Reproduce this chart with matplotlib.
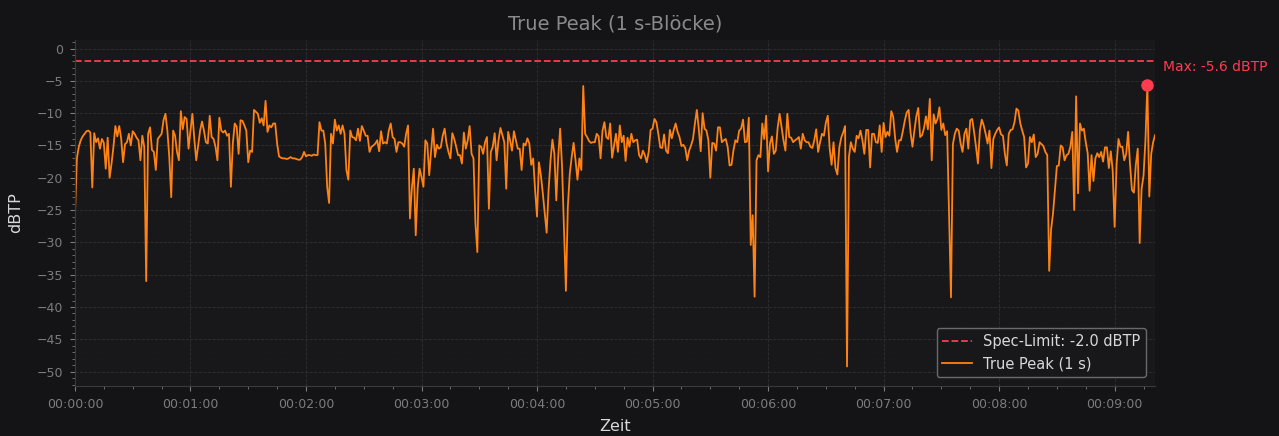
import matplotlib
matplotlib.use("Agg")
import matplotlib.pyplot as plt
from matplotlib.ticker import FuncFormatter, MultipleLocator, AutoMinorLocator

# True-Peak je 1-s-Block (dBTP)
peak_db = [
    -25.8, -17.0, -15.2, -14.2, -13.6, -13.2, -12.8, -12.7, -13.0, -21.5, -13.1, -14.5, -13.9, -15.5, -14.0, -14.6,
    -18.6, -13.8, -20.0, -17.8, -15.2, -12.0, -13.6, -12.0, -13.9, -17.6, -14.8, -14.5, -13.2, -15.0, -12.8, -13.2,
    -13.8, -14.2, -17.3, -13.5, -15.2, -36.0, -13.2, -12.2, -15.7, -16.0, -18.8, -14.0, -13.6, -13.2, -11.1,
    -10.1, -12.7, -16.8, -23.0, -12.7, -13.5, -16.0, -17.3, -9.7, -12.5, -10.6, -10.9, -15.5, -12.7, -10.1, -14.0,
    -17.3, -15.0, -12.7, -11.3, -12.7, -14.5, -14.7, -10.4, -13.7, -14.0, -15.2, -17.3, -10.7, -12.7, -13.0, -12.7,
    -13.5, -13.2, -21.4, -14.7, -11.6, -12.1, -16.3, -11.1, -11.2, -11.9, -12.7, -17.6, -15.8, -16.0, -9.5,
    -9.8, -10.1, -11.5, -10.8, -11.9, -8.1, -12.9, -11.9, -12.2, -11.6, -11.6, -14.7, -16.7, -16.9, -17.0, -17.0,
    -17.1, -17.0, -16.8, -17.0, -17.0, -17.1, -17.2, -17.2, -16.8, -16.0, -16.7, -16.5, -16.5, -16.6, -16.4, -16.5,
    -16.5, -11.4, -12.7, -12.7, -14.7, -21.4, -23.9, -13.2, -14.7, -11.0, -12.7, -11.9, -13.2, -11.9, -13.2, -18.8,
    -20.3, -12.7, -13.7, -13.8, -14.2, -12.4, -14.3, -12.0, -12.7, -13.5, -13.5, -16.0, -15.2, -15.0, -14.7, -14.2,
    -15.9, -12.8, -14.7, -14.5, -14.7, -12.7, -11.6, -13.7, -14.0, -16.0, -14.5, -14.5, -14.7, -15.2, -13.2, -11.9,
    -26.3, -21.6, -18.6, -28.9, -21.6, -18.6, -19.9, -21.4, -14.2, -14.7, -19.6, -15.8, -12.4, -16.8, -14.9,
    -15.5, -15.3, -13.5, -12.4, -14.7, -16.0, -17.0, -13.1, -14.0, -15.2, -16.5, -16.5, -17.8, -13.0, -15.5, -14.2,
    -12.0, -16.3, -17.0, -27.0, -31.5, -15.0, -15.2, -16.3, -14.5, -13.7, -24.8, -16.0, -15.2, -13.1, -17.3, -14.2,
    -12.3, -13.4, -14.5, -21.7, -12.9, -14.2, -15.8, -12.8, -14.2, -15.5, -15.5, -18.8, -14.7, -15.0, -13.9, -14.7,
    -18.0,
    -17.0, -21.9, -26.0, -17.6, -19.6, -22.4, -25.5, -28.5, -21.9, -17.3, -14.1, -16.3, -23.5, -16.8, -12.4, -18.3,
    -28.0, -37.5, -24.5, -19.4, -16.8, -14.6, -17.3, -20.3, -17.0, -18.8, -5.8, -13.2, -13.7, -14.3, -14.6, -14.5,
    -14.5, -13.2, -13.6, -17.0, -12.7, -11.4, -13.7, -14.0, -11.6, -16.9, -15.0, -13.2, -16.0, -11.9, -14.5, -13.5,
    -17.4, -13.8, -15.2, -13.2, -14.5, -14.2, -14.1, -16.5, -17.0, -15.8, -16.5, -17.6, -16.0, -12.6, -12.4, -10.9,
    -11.4, -13.2, -15.3, -15.4, -13.3, -15.8, -16.2, -12.6, -13.9, -12.6, -11.6, -12.9, -13.7, -15.1, -14.9, -15.4,
    -17.3, -15.8, -15.0, -14.0, -11.6, -9.5, -12.4, -15.9, -10.0, -12.4, -12.7, -14.2, -20.0, -14.6, -14.7,
    -15.8, -12.2, -12.2, -14.5, -14.2, -14.0, -15.2, -18.1, -18.0, -15.8, -14.2, -14.5, -12.7, -12.4, -11.0, -14.5,
    -14.4, -10.7, -30.4, -25.8, -38.4, -17.3, -16.5, -16.8, -11.6, -14.0, -10.4, -19.0, -14.7, -13.6, -16.3, -15.8,
    -12.2, -10.1, -12.2, -14.2, -15.8, -10.1, -13.7, -13.8, -14.5, -14.2, -14.0, -13.7, -15.5, -13.2, -14.2, -14.5,
    -14.5, -15.2, -15.4, -14.2, -12.5, -16.0, -14.5, -13.2, -13.5, -11.5, -10.4, -15.5, -18.0, -14.5, -18.5, -19.5,
    -15.3, -13.8, -13.0, -12.0, -49.2, -16.8, -14.5, -15.5, -16.0, -13.5, -13.9, -12.7, -14.2, -16.3, -12.6, -12.6,
    -18.4, -13.2, -13.2, -14.5, -14.6, -11.9, -16.0, -11.5, -13.7, -12.9, -13.5, -9.7, -10.6, -13.9, -16.0, -14.2,
    -14.2, -12.8, -11.2, -9.9, -9.5, -13.0, -15.2, -12.7, -10.5, -9.2, -13.7, -13.4, -12.3, -10.5, -12.5, -7.8,
    -17.3, -10.2, -11.6, -10.9, -9.1, -12.6, -11.6, -13.4, -12.8, -25.5, -38.5, -14.8, -13.2, -12.4, -12.7, -14.7,
    -16.0, -13.2, -12.4, -15.5, -11.1, -10.9, -12.9, -15.2, -17.8, -12.7, -11.0, -11.9, -13.2, -14.7, -12.7, -18.5,
    -14.0, -13.2, -12.6, -12.2, -13.3, -13.5, -16.3, -18.1, -13.2, -12.6, -12.5, -11.4, -9.3, -9.6, -11.6, -12.7,
    -13.7, -18.4, -17.8, -13.7, -14.5, -13.3, -16.8, -16.3, -14.5, -14.8, -15.1, -16.0, -16.5, -34.4, -28.0, -25.5,
    -21.9, -18.2, -18.1, -15.0, -15.3, -17.3, -16.5, -16.3, -15.2, -12.9, -25.0, -7.4, -22.4, -11.6, -12.7, -12.4,
    -14.5, -16.2, -22.0, -16.5, -20.5, -17.0, -16.2, -16.8, -16.0, -17.5, -15.3, -15.3, -18.5, -15.9, -18.9, -27.6,
    -18.0, -14.0, -15.2, -15.2, -17.3, -16.3, -12.9, -18.0, -21.9, -22.3, -18.0, -15.5, -30.1, -21.7, -19.7, -14.2,
    -5.6, -22.9, -16.3, -14.5, -13.4,
]
seconds = list(range(len(peak_db)))
spec_limit = -2.0

BG = "#141416"
AX_BG = "#18181b"
ORANGE = "#ff8214"
RED = "#ff3b4f"
TXT = "#d8d8d8"
TICK = "#7c7c7c"


def hms(x, pos):
    s = int(round(x))
    return f"{s // 3600:02d}:{(s % 3600) // 60:02d}:{s % 60:02d}"


fig = plt.figure(figsize=(12.79, 4.36), dpi=100, facecolor=BG)
ax = fig.add_axes([0.0586, 0.115, 0.8445, 0.793], facecolor=AX_BG)

ax.axhline(spec_limit, color=RED, ls="--", lw=1.3, label=f"Spec-Limit: {spec_limit:.1f} dBTP")
ax.plot(seconds, peak_db, color=ORANGE, lw=1.3, label="True Peak (1 s)")

i_max = max(range(len(peak_db)), key=lambda i: peak_db[i])
ax.plot(seconds[i_max], peak_db[i_max], "o", color=RED, ms=8, zorder=5)
ax.annotate(f"Max: {peak_db[i_max]:.1f} dBTP", (seconds[i_max], peak_db[i_max]),
            xytext=(11, 8), textcoords="offset points", color=RED, fontsize=10,
            ha="left", va="bottom", annotation_clip=False)

ax.set_xlim(0, seconds[-1])
ax.set_ylim(-52.2, 1.3)
ax.xaxis.set_major_locator(MultipleLocator(60))
ax.xaxis.set_major_formatter(FuncFormatter(hms))
ax.xaxis.set_minor_locator(AutoMinorLocator(4))
ax.yaxis.set_major_locator(MultipleLocator(5))
ax.yaxis.set_minor_locator(AutoMinorLocator(5))

ax.grid(which="major", color="#36363a", ls="--", lw=0.6, alpha=0.8)
ax.grid(which="minor", color="#222226", ls=":", lw=0.4, alpha=0.5)
ax.tick_params(colors=TICK, labelsize=9, which="both")
ax.tick_params(which="major", pad=5)
ax.tick_params(which="minor", length=2)
for side in ["top", "right"]:
    ax.spines[side].set_visible(False)
for side in ["left", "bottom"]:
    ax.spines[side].set_color("#3a3a3e")

ax.set_title("True Peak (1 s-Blöcke)", color="#8a8a8a", fontsize=14, pad=8)
ax.set_xlabel("Zeit", color=TXT, fontsize=11.5, labelpad=6)
ax.set_ylabel("dBTP", color=TXT, fontsize=11.5, labelpad=10)

leg = ax.legend(loc="lower right", facecolor=AX_BG, edgecolor="#6a6a6a", labelcolor=TXT,
                fontsize=10.5, framealpha=1, borderaxespad=0.6)

plt.savefig("out.png", dpi=100, facecolor=BG)
